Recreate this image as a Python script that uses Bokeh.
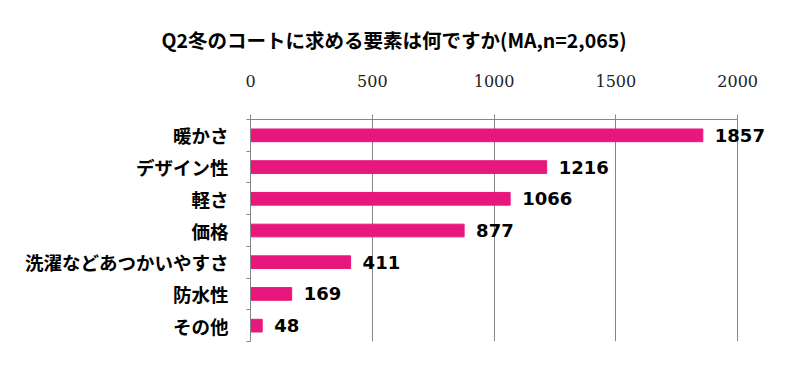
from bokeh.plotting import figure
from bokeh.models import Range1d, FixedTicker, Title, ColumnDataSource, LabelSet
from bokeh.core.properties import value
from bokeh.embed import file_html
from bokeh.resources import INLINE

categories = ["暖かさ", "デザイン性", "軽さ", "価格", "洗濯などあつかいやすさ", "防水性", "その他"]
values = [1857, 1216, 1066, 877, 411, 169, 48]
x_ticks = [0, 500, 1000, 1500, 2000]
title_text = "Q2冬のコートに求める要素は何ですか(MA,n=2,065)"

BAR = "#E8177D"
GRID = "#868686"

idx = list(range(len(categories)))
src = ColumnDataSource(dict(y=idx, v=values, lab=[str(v) for v in values]))

p = figure(width=785, height=358, output_backend="svg", toolbar_location=None,
           x_axis_location="above",
           x_range=Range1d(0, 2180),
           y_range=Range1d(len(categories) - 0.5, -0.5),
           min_border_left=250, min_border_right=4, min_border_top=119, min_border_bottom=17)
p.outline_line_color = None
p.background_fill_color = "white"

p.hbar(y="y", right="v", left=0, height=0.4, source=src, color=BAR)

p.add_layout(LabelSet(x="v", y="y", text="lab", source=src, x_offset=12,
                      text_baseline="middle", text_align="left",
                      text_font=value("DejaVu Sans"), text_font_style="bold",
                      text_font_size="18px", text_color="black"))

xa = p.xaxis[0]
xa.ticker = FixedTicker(ticks=x_ticks)
xa.bounds = (0, 2000)
xa.axis_line_color = GRID
xa.axis_line_width = 1
xa.major_tick_line_color = GRID
xa.major_tick_out = 5
xa.major_tick_in = 0
xa.minor_tick_line_color = None
xa.major_label_text_font = "DejaVu Serif"
xa.major_label_text_font_size = "16px"
xa.major_label_text_color = "#222222"
xa.major_label_standoff = 28

ya = p.yaxis[0]
ya.ticker = FixedTicker(ticks=idx, minor_ticks=[i - 0.5 for i in range(len(categories) + 1)])
ya.major_label_overrides = {i: c for i, c in zip(idx, categories)}
ya.axis_line_color = GRID
ya.major_tick_line_color = None
ya.major_tick_out = 0
ya.major_tick_in = 0
ya.minor_tick_line_color = GRID
ya.minor_tick_out = 4
ya.minor_tick_in = 0
ya.major_label_text_font = "Noto Sans CJK JP"
ya.major_label_text_font_style = "bold"
ya.major_label_text_font_size = "18.5px"
ya.major_label_text_color = "black"
ya.major_label_standoff = 18

p.xgrid.ticker = FixedTicker(ticks=x_ticks)
p.xgrid.bounds = (0, 2000)
p.xgrid.grid_line_color = GRID
p.ygrid.grid_line_color = None

p.title = Title(text=title_text, align="left", offset=-89, vertical_align="top",
                text_font="Noto Sans CJK JP", text_font_style="bold",
                text_font_size="19.5px", text_color="black", standoff=32)

open("out.html", "w").write(file_html(p, INLINE))
